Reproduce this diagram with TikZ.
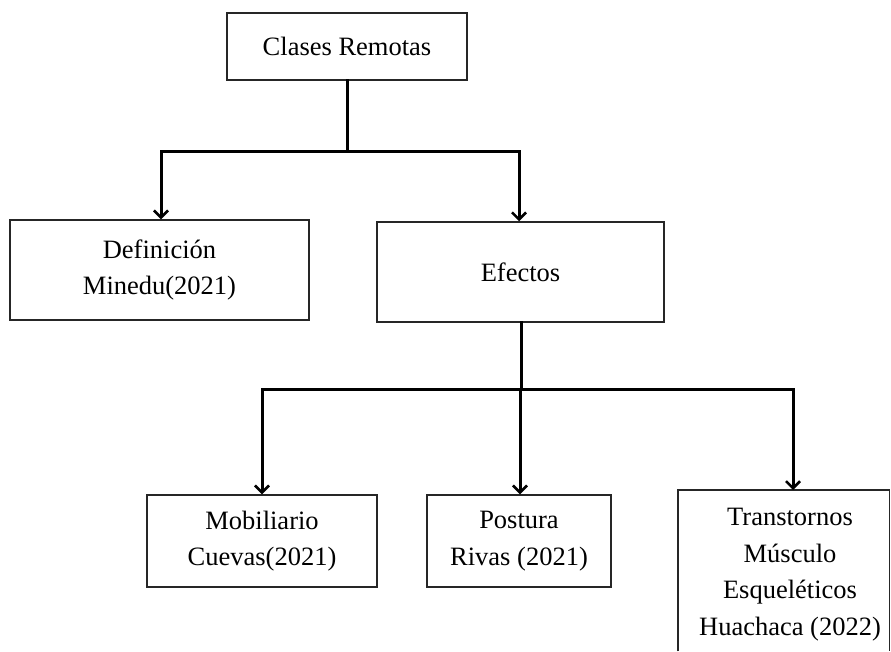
\documentclass[tikz,border=0pt]{standalone}
\usepackage{fontspec}
\setmainfont{Liberation Serif}
\usetikzlibrary{arrows.meta,calc}
\begin{document}
\begin{tikzpicture}[x=1pt,y=-1pt,
  boxstyle/.style={draw=black!85, line width=1.5pt, inner sep=0pt, align=center,
    font=\fontsize{26.5}{36.5}\selectfont},
  conn/.style={line width=3pt, line cap=rect},
  arr/.style={line width=3pt, -{Straight Barb[length=7pt,width=14pt,line width=2.6pt]}},
  frame/.style={draw=black!85, line width=1.5pt},
  txt/.style={inner sep=0pt, align=center, font=\fontsize{26.5}{36.5}\selectfont}]
\useasboundingbox (0,0) rectangle (891,651);
% boxes
\node[boxstyle, minimum width=240pt, minimum height=67pt] (clases) at (347,46.5) {Clases Remotas};
\node[boxstyle, minimum width=299pt, minimum height=100pt] (def) at (159.5,270) {Definición\\Minedu(2021)};
\node[boxstyle, minimum width=287pt, minimum height=100pt] (efe) at (520.5,272) {Efectos};
\node[boxstyle, minimum width=230pt, minimum height=92pt] (mob) at (262,541) {Mobiliario\\Cuevas(2021)};
\node[boxstyle, minimum width=184pt, minimum height=92pt] (pos) at (519,541) {Postura\\Rivas (2021)};
\node[inner sep=0pt, minimum width=211pt, minimum height=161pt, anchor=north west] (trans) at (678,490) {};
\draw[frame] (trans.south west) -- (trans.north west) -- (trans.north east) -- (trans.south east);
\node[txt, anchor=north] (transtxt) at (790,508) {Transtornos\\Músculo\\Esqueléticos\\Huachaca (2022)};
% first level connectors
\coordinate (j1) at (347,151);
\coordinate (l1) at (161,151);
\coordinate (r1) at (519,151);
\draw[conn] (clases.south) -- (j1);
\draw[conn] (l1) -- (r1);
\draw[arr] (l1) -- (l1 |- def.north);
\draw[arr] (r1) -- (r1 |- efe.north);
% second level connectors
\coordinate (j2) at (521,389);
\coordinate (l2) at (262,389);
\coordinate (m2) at (520,389);
\coordinate (r2) at (793,389);
\draw[conn] (j2 |- efe.south) -- (j2);
\draw[conn] (l2) -- (r2);
\draw[arr] (l2) -- (l2 |- mob.north);
\draw[arr] (m2) -- (m2 |- pos.north);
\draw[arr] (r2) -- (r2 |- trans.north);
\end{tikzpicture}
\end{document}
